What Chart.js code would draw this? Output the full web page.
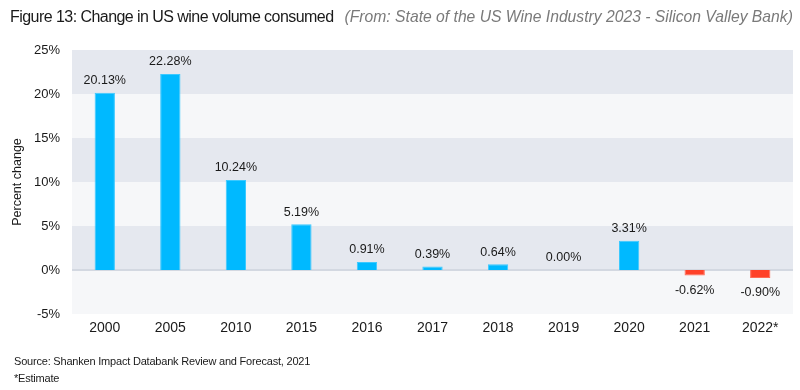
<!DOCTYPE html>
<html><head><meta charset="utf-8">
<script src="https://cdn.jsdelivr.net/npm/chart.js@4.4.1/dist/chart.umd.min.js"></script>
<style>
html,body{margin:0;padding:0;background:#fff;width:800px;height:390px;overflow:hidden;}
#wrap{position:absolute;left:0;top:0;width:800px;height:390px;}
.t{position:absolute;white-space:nowrap;font-family:"Liberation Sans",Arial,sans-serif;}
#title{left:10px;top:8px;font-size:16px;color:#1a1a1a;}
#title span{letter-spacing:-0.55px;}
#title i{color:#7a7a7a;font-size:15.7px;margin-left:11px;letter-spacing:0;}
#src{left:14px;top:355px;font-size:11px;color:#1a1a1a;letter-spacing:-0.2px;}
#est{left:14px;top:372px;font-size:11px;color:#1a1a1a;letter-spacing:-0.2px;}
</style></head>
<body>
<div id="wrap"><canvas id="c" width="800" height="390"></canvas></div>
<div class="t" id="title"><span>Figure 13: Change in US wine volume consumed</span><i>(From: State of the US Wine Industry 2023 - Silicon Valley Bank)</i></div>
<div class="t" id="src">Source: Shanken Impact Databank Review and Forecast, 2021</div>
<div class="t" id="est">*Estimate</div>
<script>
const categories = ["2000","2005","2010","2015","2016","2017","2018","2019","2020","2021","2022*"];
const changePct = [20.13, 22.28, 10.24, 5.19, 0.91, 0.39, 0.64, 0.00, 3.31, -0.62, -0.90];
const yTicks = [-5, 0, 5, 10, 15, 20, 25];

const FONT = '"Liberation Sans", Arial, sans-serif';
const BLUE = '#00b9ff', RED = '#ff4128';

const bandPlugin = {
  id: 'bands',
  beforeDraw(chart) {
    const {ctx, chartArea: a, scales: {y}} = chart;
    ctx.save();
    for (let i = 0; i < yTicks.length - 1; i++) {
      const lo = yTicks[i], hi = yTicks[i+1];
      const y1 = y.getPixelForValue(hi), y2 = y.getPixelForValue(lo);
      ctx.fillStyle = (i % 2 === 1) ? '#e5e8ef' : '#f6f7f9';
      ctx.fillRect(a.left, y1, a.right - a.left, y2 - y1);
    }
    const z = y.getPixelForValue(0);
    ctx.fillStyle = '#d3d8e1';
    ctx.fillRect(a.left, z - 1, a.right - a.left, 2);
    ctx.restore();
  }
};

const labelPlugin = {
  id: 'vlabels',
  afterDatasetsDraw(chart) {
    const {ctx} = chart;
    const meta = chart.getDatasetMeta(0);
    const z = chart.scales.y.getPixelForValue(0);
    ctx.save();
    ctx.font = '12.5px ' + FONT;
    ctx.fillStyle = '#1a1a1a';
    ctx.textAlign = 'center';
    ctx.textBaseline = 'middle';
    meta.data.forEach((bar, i) => {
      const v = changePct[i];
      const txt = v.toFixed(2) + '%';
      let yy;
      if (v < 0) yy = bar.y + 15;
      else yy = Math.min(bar.y, z) - 12;
      ctx.fillText(txt, bar.x, yy);
    });
    ctx.restore();
  }
};

new Chart(document.getElementById('c'), {
  type: 'bar',
  data: {
    labels: categories,
    datasets: [{
      data: changePct,
      backgroundColor: changePct.map(v => v < 0 ? RED : BLUE),
      borderColor: changePct.map(v => v < 0 ? '#ff6a55' : '#3cc9ff'),
      borderWidth: 1,
      barPercentage: 0.31,
      categoryPercentage: 1.0
    }]
  },
  options: {
    responsive: false,
    animation: false,
    devicePixelRatio: 1,
    layout: {padding: {top: 50, right: 7, bottom: 0, left: 0}},
    plugins: {legend: {display: false}, tooltip: {enabled: false}},
    scales: {
      x: {
        grid: {display: false, drawTicks: false},
        border: {display: false},
        ticks: {color: '#1a1a1a', font: {family: FONT, size: 14}, padding: 6, maxRotation: 0},
        afterFit(s) { s.height = 76; }
      },
      y: {
        min: -5, max: 25,
        afterBuildTicks(s) { s.ticks = yTicks.map(v => ({value: v})); },
        grid: {display: false, drawTicks: false},
        border: {display: false},
        ticks: {color: '#1a1a1a', font: {family: FONT, size: 13}, padding: 12, callback: v => v + '%'},
        title: {display: true, text: 'Percent change', color: '#1a1a1a', font: {family: FONT, size: 12.5}, padding: {top: 10, bottom: 0}},
        afterFit(s) { s.width = 72; }
      }
    }
  },
  plugins: [bandPlugin, labelPlugin]
});
</script>
</body></html>
